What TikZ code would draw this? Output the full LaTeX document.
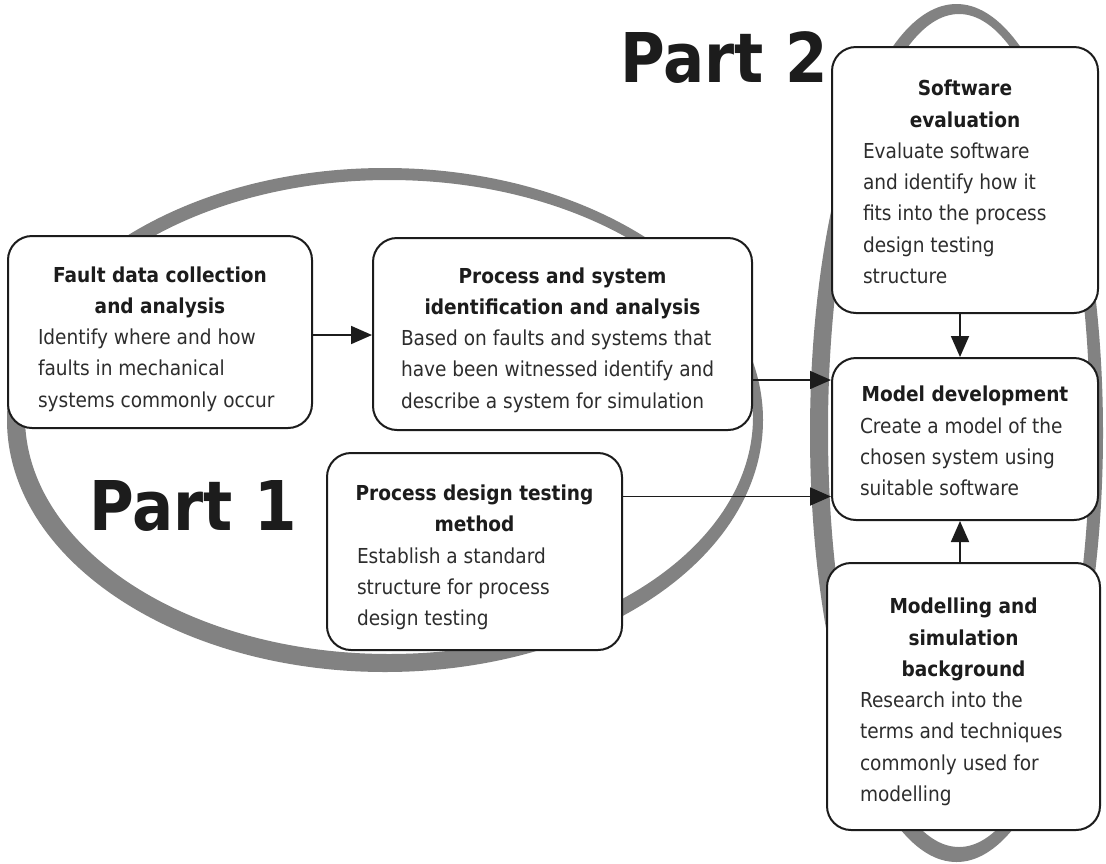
\documentclass[tikz,border=0pt]{standalone}
\usepackage{fontspec}
\setmainfont{DejaVu Sans}[FakeStretch=0.9]
\newfontfamily\partfont{DejaVu Sans}[FakeStretch=0.89]
\usetikzlibrary{arrows.meta}
\definecolor{ringgray}{RGB}{130,130,130}
\definecolor{inkc}{RGB}{28,28,28}
\definecolor{bodyc}{RGB}{45,45,45}
\newcommand\titleline[1]{\hbox to \hsize{\hss\color{inkc}\bfseries #1\hss}}
\newcommand\bodyline[1]{\hbox{#1}}
\newcommand\bodysize{\fontsize{20.6}{31.3}\selectfont}
\begin{document}
\begin{tikzpicture}[x=1pt,y=-1pt,
  box/.style={draw=inkc, line width=2pt, rounded corners=24pt, fill=white, inner ysep=0pt, font=\bodysize, text=bodyc},
  arr/.style={draw=inkc, line width=1.8pt, -{Triangle[length=21pt,width=18pt]}},
  part/.style={anchor=base west, inner sep=0pt, text=inkc, font=\partfont\bfseries\fontsize{68.6}{80}\selectfont},
  ring/.style={fill=ringgray, even odd rule}]
\useasboundingbox (0,0) rectangle (1106,863);
\fill[white] (0,0) rectangle (1106,863);
% rings
\fill[ring] (385,420) ellipse [x radius=378pt, y radius=252pt] (389,417) ellipse [x radius=364pt, y radius=237pt];
\fill[ring] (956.5,433) ellipse [x radius=146.5pt, y radius=429pt] (959,430.5) ellipse [x radius=131pt, y radius=416.5pt];
% part labels
\node[part] (p1) at (89,530) {Part 1};
\node[part] (p2) at (620,82) {Part 2};
% boxes
\node[box, minimum width=304pt, minimum height=192pt, inner xsep=30pt] (b1) at (160,332)
 {\vbox{\hsize=244pt\vskip14pt
  \titleline{Fault data collection}\titleline{and analysis}
  \bodyline{Identify where and how}\bodyline{faults in mechanical}\bodyline{systems commonly occur}}};
\node[box, minimum width=379pt, minimum height=192pt, inner xsep=28pt] (b2) at (562.5,334)
 {\vbox{\hsize=323pt\vskip12pt
  \titleline{Process and system}\titleline{identification and analysis}
  \bodyline{Based on faults and systems that}\bodyline{have been witnessed identify and}\bodyline{describe a system for simulation}}};
\node[box, minimum width=295pt, minimum height=197pt, inner xsep=30pt] (b3) at (474.5,551.5)
 {\vbox{\hsize=235pt\vskip12pt
  \titleline{Process design testing}\titleline{method}
  \bodyline{Establish a standard}\bodyline{structure for process}\bodyline{design testing}}};
\node[box, minimum width=266pt, minimum height=266pt, inner xsep=31pt] (b4) at (965,180)
 {\vbox{\hsize=204pt\vskip4pt
  \titleline{Software}\titleline{evaluation}
  \bodyline{Evaluate software}\bodyline{and identify how it}\bodyline{fits into the process}\bodyline{design testing}\bodyline{structure}}};
\node[box, minimum width=266pt, minimum height=162pt, inner xsep=28pt] (b5) at (965,439)
 {\vbox{\hsize=210pt\vskip4pt
  \titleline{Model development}
  \bodyline{Create a model of the}\bodyline{chosen system using}\bodyline{suitable software}}};
\node[box, minimum width=273pt, minimum height=267pt, inner xsep=33pt] (b6) at (963.5,696.5)
 {\vbox{\hsize=207pt\vskip11pt
  \titleline{Modelling and}\titleline{simulation}\titleline{background}
  \bodyline{Research into the}\bodyline{terms and techniques}\bodyline{commonly used for}\bodyline{modelling}}};
% connectors
\draw[arr] ([yshift=-3pt]b1.east) -- ([yshift=-3pt]b1.east -| b2.west);
\draw[arr] ([yshift=-46pt]b2.east) -- ([yshift=-46pt]b2.east -| b5.west);
\draw[arr] ([yshift=55pt]b3.east) -- ([yshift=55pt]b3.east -| b5.west);
\draw[arr] ([xshift=-5pt]b4.south) -- ([xshift=-5pt]b4.south |- b5.north);
\draw[arr] ([xshift=-3.5pt]b6.north) -- ([xshift=-3.5pt]b6.north |- b5.south);
\end{tikzpicture}
\end{document}
